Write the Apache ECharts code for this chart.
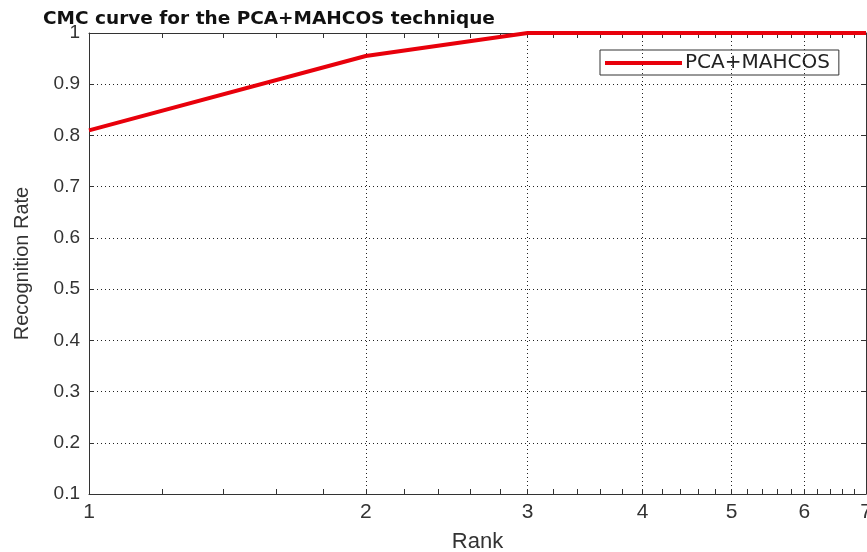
<!DOCTYPE html>
<html>
<head>
<meta charset="utf-8">
<script src="https://cdn.jsdelivr.net/npm/echarts@6/dist/echarts.min.js"></script>
<style>
  html, body { margin: 0; padding: 0; background: #fff; }
  #chart { width: 867px; height: 552px; }
</style>
</head>
<body>
<div id="chart"></div>
<script>
// rank values and recognition rate
const ranks = [1, 2, 3, 4, 5, 6, 7];
const rates = [0.81, 0.955, 1, 1, 1, 1, 1];
const seriesName = "PCA+MAHCOS";
const rankLabels = [1, 2, 3, 4, 5, 6, 7];

// minor ticks every 0.2 on the log axis (MATLAB style)
const minorTicks = [];
for (let i = 0; i <= 30; i++) minorTicks.push(+(1 + i * 0.2).toFixed(1));

const chart = echarts.init(document.getElementById("chart"));
const font = "Liberation Sans, Arial, sans-serif";
const axisColor = "#333";

const option = {
  backgroundColor: "#fff",
  animation: false,
  title: {
    text: "CMC curve for the PCA+MAHCOS technique",
    left: 38,
    top: 5,
    textStyle: { fontFamily: "DejaVu Sans", fontWeight: "bold", fontSize: 18.5, color: "#111" }
  },
  legend: {
    left: 600,
    top: 50,
    orient: "horizontal",
    borderColor: "#333",
    borderWidth: 1,
    borderRadius: 0,
    padding: [3, 9, 2, 5],
    itemWidth: 77,
    itemHeight: 4,
    itemGap: 0,
    data: [{ name: seriesName, icon: "rect" }],
    textStyle: { fontFamily: "DejaVu Sans", fontSize: 20, color: "#222", padding: [0, 0, 0, -2] }
  },
  grid: { left: 89, right: 1, top: 33, bottom: 58, containLabel: false, outerBoundsMode: "none" },
  xAxis: [
    {
      type: "log",
      logBase: 10,
      min: 1,
      max: 7,
      position: "bottom",
      name: "Rank",
      nameLocation: "middle",
      nameGap: 37,
      nameTextStyle: { fontFamily: font, fontSize: 22, color: axisColor },
      axisLine: { show: true, lineStyle: { color: axisColor, width: 1 } },
      axisTick: { show: false, customValues: rankLabels },
      axisLabel: {
        customValues: rankLabels,
        formatter: v => String(Math.round(v)),
        fontFamily: font, fontSize: 21, color: axisColor, margin: 8
      },
      splitLine: { show: true, lineStyle: { color: "#222", type: [1, 3], width: 1 } },
      minorTick: { show: false },
      minorSplitLine: { show: false }
    },
    {
      type: "log",
      logBase: 10,
      min: 1,
      max: 7,
      position: "bottom",
      axisLine: { show: false },
      axisTick: { show: true, inside: true, length: 5, customValues: minorTicks, lineStyle: { color: axisColor } },
      axisLabel: { show: false },
      splitLine: { show: false }
    },
    {
      type: "log",
      logBase: 10,
      min: 1,
      max: 7,
      position: "top",
      axisLine: { show: true, lineStyle: { color: axisColor, width: 1 } },
      axisTick: { show: true, inside: true, length: 5, customValues: minorTicks, lineStyle: { color: axisColor } },
      axisLabel: { show: false },
      splitLine: { show: false }
    }
  ],
  yAxis: [
    {
      type: "value",
      min: 0.1,
      max: 1,
      interval: 0.1,
      position: "left",
      name: "Recognition Rate",
      nameLocation: "middle",
      nameGap: 57,
      nameRotate: 90,
      nameTextStyle: { fontFamily: font, fontSize: 20, color: axisColor },
      axisLine: { show: true, lineStyle: { color: axisColor, width: 1 } },
      axisTick: { show: true, inside: true, length: 5, lineStyle: { color: axisColor } },
      axisLabel: { fontFamily: font, fontSize: 19, color: axisColor, margin: 9 },
      splitLine: { show: true, lineStyle: { color: "#222", type: [1, 3], width: 1 } }
    },
    {
      type: "value",
      min: 0.1,
      max: 1,
      interval: 0.1,
      position: "right",
      axisLine: { show: true, lineStyle: { color: axisColor, width: 1 } },
      axisTick: { show: true, inside: true, length: 5, lineStyle: { color: axisColor } },
      axisLabel: { show: false },
      splitLine: { show: false }
    }
  ],
  series: [
    {
      name: seriesName,
      type: "line",
      xAxisIndex: 0,
      yAxisIndex: 0,
      data: ranks.map((r, i) => [r, rates[i]]),
      showSymbol: false,
      symbol: "none",
      clip: false,
      itemStyle: { color: "#e8000b" },
      lineStyle: { color: "#e8000b", width: 4 }
    }
  ]
};

chart.setOption(option);
</script>
</body>
</html>
